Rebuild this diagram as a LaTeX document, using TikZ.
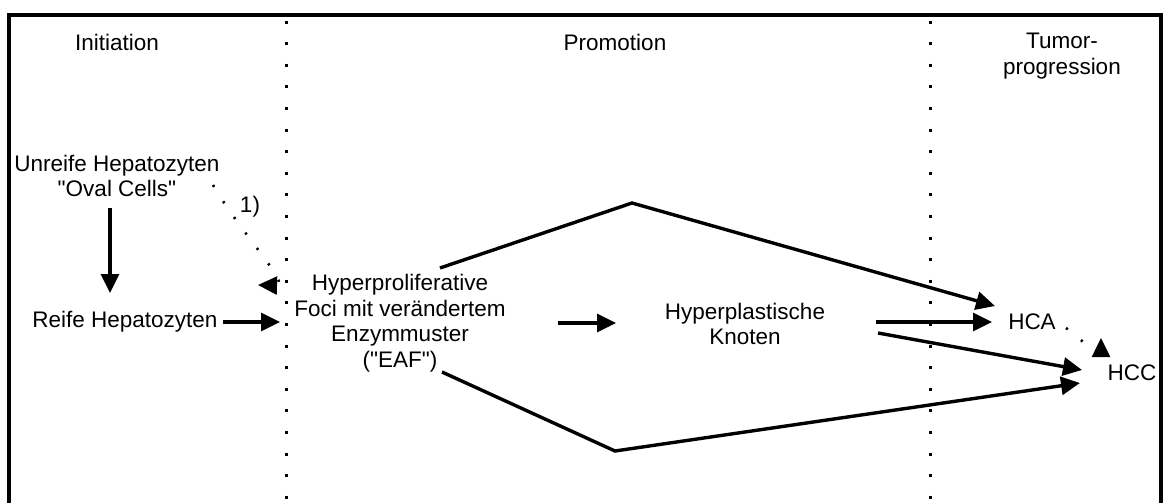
\documentclass[tikz,border=0pt]{standalone}
\usepackage{fontspec}
\setmainfont{Liberation Sans}
\usepackage{tikz}
\usetikzlibrary{arrows.meta,calc}
\tikzset{
  hepnode/.style   = {align=center, inner sep=0pt, font=\fontsize{11.25}{12.75}\selectfont},
  hepflow/.style   = {-{Triangle[length=9.5pt,width=9pt]}, line width=1.7pt, draw=black},
  hepline/.style   = {line width=1.7pt, draw=black, line join=miter},
  hepdot/.style    = {-{Triangle[length=9.5pt,width=9pt]}, line width=1.3pt,
                      dash pattern=on 1.1pt off 8.5pt},
  hepdiv/.style    = {line width=1.5pt, dash pattern=on 1.5pt off 9.3pt},
  hepframe/.style  = {line width=1.6pt, line join=miter},
}

\begin{document}
\begin{tikzpicture}[x=0.5pt,y=-0.5pt]
  \useasboundingbox (0,0) rectangle (1163,503);
  \draw[hepframe] (9,503) -- (9,15) -- (1161,15) -- (1161,503);
  \draw[hepdiv] (286,20.5) -- (286,503);
  \draw[hepdiv] (930,20.5) -- (930,503);

  % stage headings
  \node[hepnode] (init)  at (117,42)  {Initiation};
  \node[hepnode] (promo) at (615,42)  {Promotion};
  \node[hepnode] (tumor) at (1062,56) {Tumor-\\progression};

  % cells
  \node[hepnode] (unreif) at (117,176)  {Unreife Hepatozyten\\\textquotedbl Oval Cells\textquotedbl};
  \node[hepnode] (reif)   at (125,322)  {Reife Hepatozyten};
  \node[hepnode] (eaf)    at (400,323)  {Hyperproliferative\\Foci mit verändertem\\Enzymmuster\\(\textquotedbl EAF\textquotedbl)};
  \node[hepnode] (knoten) at (745,324)  {Hyperplastische\\Knoten};
  \node[hepnode] (hca)    at (1032,322) {HCA};
  \node[hepnode] (hcc)    at (1132,373) {HCC};
  \node[hepnode] (fn)     at (250,207)  {1)};

  \coordinate (peak)   at (632,203);
  \coordinate (valley) at (615,451);

  \draw[hepflow] ($(unreif.center)+(-7,32)$) -- ($(reif.center)+(-15,-29)$);
  \draw[hepflow] ($(reif.center)+(98,0)$) -- ($(eaf.center)+(-120,-1)$);
  \draw[hepdot]  ($(unreif.center)+(96,9)$) .. controls (240,232) and (292,286) .. ($(eaf.center)+(-142,-38)$);
  \draw[hepflow] ($(eaf.center)+(158,0)$) -- ($(knoten.center)+(-129,-1)$);
  \draw[hepline,-{Triangle[length=9.5pt,width=9pt]}] ($(eaf.center)+(40,-55)$) -- (peak) -- ($(hca.center)+(-37,-16)$);
  \draw[hepline,-{Triangle[length=9.5pt,width=9pt]}] ($(eaf.center)+(42,49)$) -- (valley) -- ($(hcc.center)+(-52,10)$);
  \draw[hepflow] ($(knoten.center)+(131,-2)$) -- ($(hca.center)+(-40,0)$);
  \draw[hepflow] ($(knoten.center)+(133,9)$) -- ($(hcc.center)+(-50,-3)$);
  \draw[hepdot]  ($(hca.center)+(34,6)$) .. controls (1086,342) and (1101,362) .. ($(hcc.center)+(-31,-35)$);
\end{tikzpicture}
\end{document}
